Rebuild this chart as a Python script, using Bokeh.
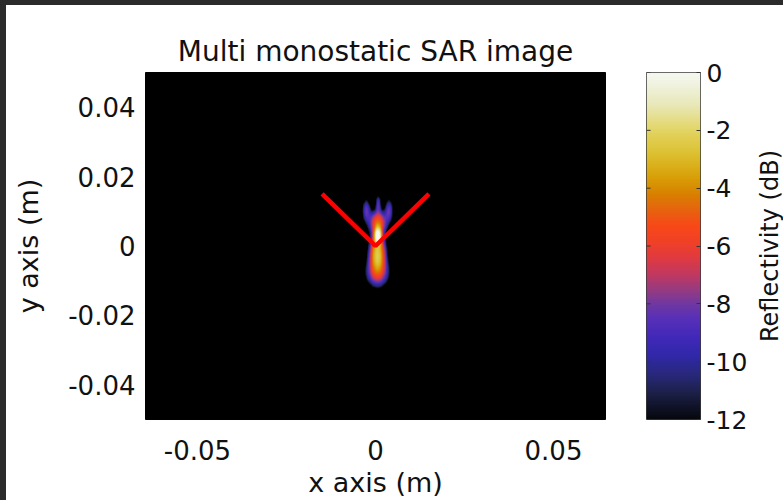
import numpy as np
from bokeh.plotting import figure
from bokeh.models import LinearColorMapper, FixedTicker, Label, Div, Range1d
from bokeh.layouts import row, column
from bokeh.embed import file_html
from bokeh.resources import INLINE

# ---------------- texts / ticks ----------------
title_text = "Multi monostatic SAR image"
x_label = "x axis (m)"
y_label = "y axis (m)"
cbar_label = "Reflectivity (dB)"
x_ticks = [-0.05, 0.0, 0.05]
x_tick_labels = ["-0.05", "0", "0.05"]
y_ticks = [-0.04, -0.02, 0.0, 0.02, 0.04]
y_tick_labels = ["-0.04", "-0.02", "0", "0.02", "0.04"]
cbar_ticks = [-12, -10, -8, -6, -4, -2, 0]
cbar_tick_labels = ["-12", "-10", "-8", "-6", "-4", "-2", "0"]
db_min = -12.0
db_max = 0.0

# ---------------- target outline (red) ----------------
target_x = [-0.015, 0.0, 0.015]
target_y = [0.015, 0.0, 0.015]

# ---------------- scattering lobes ----------------
lobe_x = [0.0005, 0.0004, 0.0004, 0.0005, 0.0006, -0.0027, 0.0036]
lobe_y = [0.0028, -0.0025, -0.0078, 0.0065, 0.0120, 0.0100, 0.0100]
lobe_sx = [0.0006, 0.0013, 0.0023, 0.0015, 0.0005, 0.0008, 0.0008]
lobe_sy = [0.0015, 0.0035, 0.0028, 0.0022, 0.0018, 0.0024, 0.0024]
lobe_peak_db = [0.0, -2.5, -7.5, -5.0, -9.0, -8.5, -8.5]

# image extent (m)
img_x0, img_x1 = -0.010, 0.011
img_y0, img_y1 = -0.020, 0.022
img_step = 0.0001

xs = np.arange(img_x0, img_x1, img_step)
ys = np.arange(img_y0, img_y1, img_step)
XX, YY = np.meshgrid(xs, ys)
power = np.zeros_like(XX)
for cx, cy, sx, sy, pk in zip(lobe_x, lobe_y, lobe_sx, lobe_sy, lobe_peak_db):
    power += 10 ** (pk / 10.0) * np.exp(-0.5 * (((XX - cx) / sx) ** 2 + ((YY - cy) / sy) ** 2))
img_db = 10 * np.log10(power + 1e-30)
img_db = np.clip(img_db, db_min - 1, db_max)

# ---------------- colormap (style) ----------------
stops_db = [-12, -11.1, -10.5, -9.8, -9.2, -8.5, -8.0, -7.5, -7.0, -6.4, -5.9, -5.3,
            -4.8, -4.2, -3.6, -2.8, -2.05, -1.1, -0.3, 0]
stops_col = ["#06080c", "#1c2048", "#282878", "#3028a8", "#4028b8", "#5830b8", "#7038a0",
             "#983a80", "#c03860", "#e03a40", "#f04028", "#f84818", "#e86010", "#d88000",
             "#d8a008", "#dcc030", "#e2d35e", "#e8e8b8", "#f1f4e4", "#f5f8f0"]
def _rgb(h):
    h = h.lstrip("#")
    return [int(h[i:i + 2], 16) for i in (0, 2, 4)]
_rgbs = np.array([_rgb(c) for c in stops_col], dtype=float)
_lv = np.linspace(db_min, db_max, 256)
palette = []
for v in _lv:
    r = np.interp(v, stops_db, _rgbs[:, 0])
    g = np.interp(v, stops_db, _rgbs[:, 1])
    b = np.interp(v, stops_db, _rgbs[:, 2])
    palette.append("#%02x%02x%02x" % (int(round(r)), int(round(g)), int(round(b))))

mapper = LinearColorMapper(palette=palette, low=db_min, high=db_max, low_color="#000000", high_color=palette[-1])

FONT = "DejaVu Sans"

# ---------------- main figure ----------------
p = figure(width=609, height=495, x_range=Range1d(-0.0646, 0.0646), y_range=Range1d(-0.05, 0.05),
           output_backend="svg", toolbar_location=None,
           min_border_left=139, min_border_right=10, min_border_top=67, min_border_bottom=78,
           title=title_text, margin=0)
p.background_fill_color = "#000000"
p.border_fill_color = "#ffffff"
p.outline_line_color = "#000000"
p.grid.visible = False

p.image(image=[img_db], x=img_x0, y=img_y0, dw=img_x1 - img_x0, dh=img_y1 - img_y0, color_mapper=mapper)
p.line(target_x, target_y, line_color="#ff0000", line_width=4.5)

p.title.text_font = FONT
p.title.text_font_size = "28px"
p.title.text_font_style = "normal"
p.title.align = "center"
p.title.standoff = 10
p.title.text_color = "#111111"

p.xaxis.ticker = FixedTicker(ticks=x_ticks)
p.xaxis.major_label_overrides = dict(zip(x_ticks, x_tick_labels))
p.yaxis.ticker = FixedTicker(ticks=y_ticks)
p.yaxis.major_label_overrides = dict(zip(y_ticks, y_tick_labels))
for ax in (p.xaxis[0], p.yaxis[0]):
    ax.axis_line_color = None
    ax.major_tick_line_color = None
    ax.minor_tick_line_color = None
    ax.major_tick_out = 0
    ax.major_tick_in = 0
    ax.major_label_text_font = FONT
    ax.major_label_text_font_size = "26px"
    ax.major_label_text_color = "#111111"
    ax.axis_label_text_font = FONT
    ax.axis_label_text_font_size = "27px"
    ax.axis_label_text_font_style = "normal"
    ax.axis_label_text_color = "#111111"
p.xaxis.axis_label = x_label
p.yaxis.axis_label = y_label
p.xaxis.major_label_standoff = 20
p.yaxis.major_label_standoff = 10
p.xaxis.axis_label_standoff = 4
p.yaxis.axis_label_standoff = 21

# ---------------- colorbar figure ----------------
cb = figure(width=135, height=495, x_range=Range1d(0, 1), y_range=Range1d(db_min, db_max),
            output_backend="svg", toolbar_location=None, y_axis_location="right", x_axis_location=None,
            min_border_left=31, min_border_right=50, min_border_top=67, min_border_bottom=78, margin=0)
cb.grid.visible = False
cb.border_fill_color = "#ffffff"
cb.outline_line_color = "#3a3a3a"
grad = np.linspace(db_min, db_max, 256).reshape(256, 1)
cb.image(image=[grad], x=0, y=db_min, dw=1, dh=db_max - db_min, color_mapper=mapper)
# inner tick marks on the left edge of the colour bar
cb.segment(x0=0, y0=cbar_ticks, x1=0.075, y1=cbar_ticks, line_color="#333333", line_width=1)
cax = cb.yaxis[0]
cax.ticker = FixedTicker(ticks=cbar_ticks)
cax.major_label_overrides = dict(zip(cbar_ticks, cbar_tick_labels))
cax.axis_line_color = None
cax.major_tick_in = 4
cax.major_tick_out = 0
cax.major_tick_line_color = "#333333"
cax.minor_tick_line_color = None
cax.major_label_standoff = 6
cax.major_label_text_font = FONT
cax.major_label_text_font_size = "25px"
cax.major_label_text_color = "#111111"

# ---------------- colour-bar label strip ----------------
lab = figure(width=33, height=495, x_range=Range1d(0, 1), y_range=Range1d(db_min, db_max),
             output_backend="svg", toolbar_location=None, x_axis_location=None, y_axis_location=None,
             min_border_left=0, min_border_right=0, min_border_top=67, min_border_bottom=78, margin=0)
lab.grid.visible = False
lab.outline_line_color = None
lab.background_fill_color = "#ffffff"
lab.border_fill_color = "#ffffff"
lab.add_layout(Label(x=0.6, y=(db_min + db_max) / 2, text=cbar_label, angle=np.pi / 2,
                     text_align="center", text_baseline="middle", text_font=FONT,
                     text_font_size="24px", text_color="#111111"))

top_bar = Div(width=783, height=5, margin=0, styles={"background-color": "#2b2b2b"})
left_bar = Div(width=6, height=495, margin=0, styles={"background-color": "#2b2b2b"})
layout = column(top_bar, row(left_bar, p, cb, lab, spacing=0, margin=0), spacing=0, margin=0)

open("out.html", "w").write(file_html(layout, INLINE))
